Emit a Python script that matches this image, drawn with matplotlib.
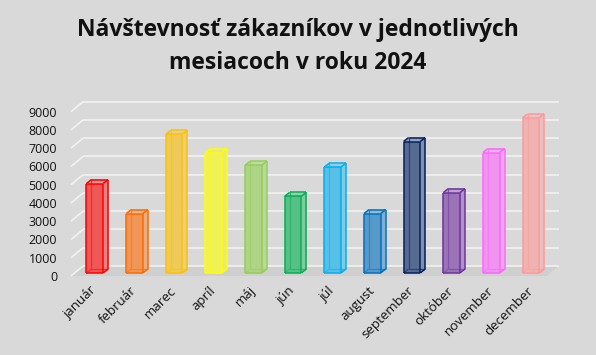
import matplotlib
matplotlib.use("Agg")
import matplotlib.pyplot as plt
from matplotlib.patches import Polygon
from matplotlib.lines import Line2D
from matplotlib.colors import to_rgb
from matplotlib.transforms import ScaledTranslation, IdentityTransform

plt.rcParams['font.family'] = ['Open Sans', 'DejaVu Sans']

# ---------------------------- DATA ----------------------------
months = ['január', 'február', 'marec', 'apríl', 'máj', 'jún', 'júl',
          'august', 'september', 'október', 'november', 'december']
visitors = [4900, 3250, 7600, 6600, 5900, 4200, 5800, 3250, 7200, 4400, 6600, 8500]
colors = ['#ff0000', '#ff6a00', '#ffc000', '#ffff00', '#92d050', '#00b050',
          '#00b0f0', '#0070c0', '#002060', '#7030a0', '#ff66ff', '#ff9999']
yticks = list(range(0, 9001, 1000))
title1 = 'Návštevnosť zákazníkov v jednotlivých'
title2 = 'mesiacoch v roku 2024'
# --------------------------------------------------------------

W, H = 596, 355
bg = '#d9d9d9'
fig = plt.figure(figsize=(W / 100, H / 100), dpi=100, facecolor=bg)
ax = fig.add_axes([71 / W, 79 / H, 475.7 / W, 164.3 / H])
ax.set_facecolor('none')
ax.set_xlim(-0.6, 11.4)
ax.set_ylim(0, 9000)
for s in ax.spines.values():
    s.set_visible(False)

# depth offsets in pixels
wall_dx, wall_dy = 12, 10
bar_dx, bar_dy = 5, 4
base_up = 3
bw = 0.42
ident = IdentityTransform()


def mix(c, a):
    c1, c2 = to_rgb(c), to_rgb(bg)
    return tuple(a * u + (1 - a) * w for u, w in zip(c1, c2))


def px(x, y, ox=0, oy=0):
    p = ax.transData.transform((x, y))
    return (p[0] + ox, p[1] + oy)


def seg(p1, p2, c, lw, z):
    ax.add_line(Line2D([p1[0], p2[0]], [p1[1], p2[1]], color=c, lw=lw,
                       transform=ident, zorder=z, clip_on=False,
                       solid_capstyle='butt'))


def face(pts, c, z):
    ax.add_patch(Polygon(pts, closed=True, facecolor=c, edgecolor='none',
                         transform=ident, zorder=z, clip_on=False))


# floor
x0, x1 = ax.get_xlim()
face([px(x0, 0), px(x1, 0), px(x1, 0, wall_dx, wall_dy), px(x0, 0, wall_dx, wall_dy)],
     '#cfcfcf', 1)

# back-wall gridlines
for v in yticks:
    a = px(x0, v)
    b = px(x0, v, wall_dx, wall_dy)
    c = px(x1, v, wall_dx, wall_dy)
    seg(a, b, '#f2f2f2', 1.2, 2)
    seg(b, c, '#f2f2f2', 1.2, 2)

# 3d-looking bars
ax.bar(range(len(months)), visitors, width=bw, color=[mix(c, 0.6) for c in colors],
       edgecolor='none', zorder=5,
       transform=ax.transData + ScaledTranslation(0, base_up / 100, fig.dpi_scale_trans))

for i, (v, col) in enumerate(zip(visitors, colors)):
    fl_b = px(i - bw / 2, 0, 0, base_up)
    fr_b = px(i + bw / 2, 0, 0, base_up)
    fl_t = px(i - bw / 2, v, 0, base_up)
    fr_t = px(i + bw / 2, v, 0, base_up)
    bl_b = (fl_b[0] + bar_dx, fl_b[1] + bar_dy)
    br_b = (fr_b[0] + bar_dx, fr_b[1] + bar_dy)
    bl_t = (fl_t[0] + bar_dx, fl_t[1] + bar_dy)
    br_t = (fr_t[0] + bar_dx, fr_t[1] + bar_dy)
    # side and top faces
    face([fr_b, br_b, br_t, fr_t], mix(col, 0.4), 4)
    face([fl_t, fr_t, br_t, bl_t], mix(col, 0.3), 4)
    # back edges seen through the front face
    for p, q in [(bl_b, bl_t), (bl_b, br_b), (fl_b, bl_b)]:
        seg(p, q, mix(col, 0.8), 0.9, 5.5)
    # visible edges
    for p, q in [(fl_b, fr_b), (fr_b, fr_t), (fr_t, fl_t), (fl_t, fl_b),
                 (fl_t, bl_t), (bl_t, br_t), (br_t, fr_t), (br_t, br_b), (br_b, fr_b)]:
        seg(p, q, col, 1.1, 6)

# axes labels
ax.set_yticks(yticks)
ax.set_yticklabels([str(v) for v in yticks])
ax.tick_params(axis='y', length=0, pad=10, labelsize=9, labelcolor='#111111')
ax.set_xticks(range(len(months)))
ax.set_xticklabels(months, rotation=45, ha='right', va='center',
                   rotation_mode='anchor')
ax.tick_params(axis='x', length=0, pad=9, labelsize=9.5, labelcolor='#111111')

fig.text(0.5, 1 - 36 / H, title1, ha='center', va='baseline', fontsize=16.5,
         fontweight='bold', color='#111111')
fig.text(0.5, 1 - 69 / H, title2, ha='center', va='baseline', fontsize=16.5,
         fontweight='bold', color='#111111')

fig.savefig('out.png', dpi=100, facecolor=bg)
